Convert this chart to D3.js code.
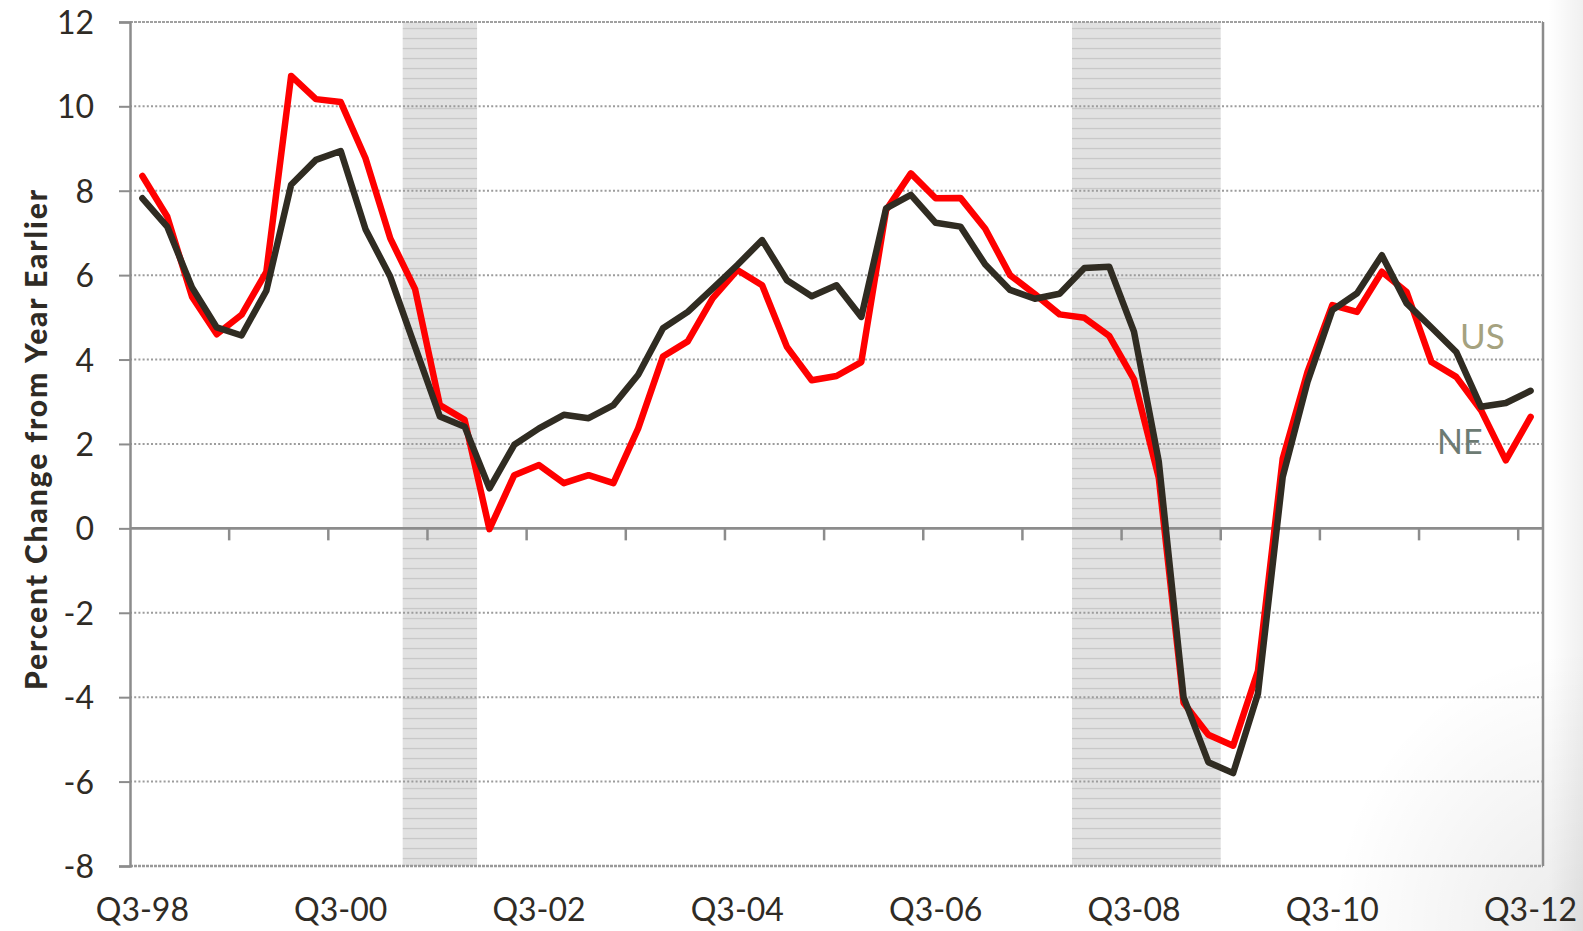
<!DOCTYPE html>
<html>
<head>
<meta charset="utf-8">
<script src="https://cdn.jsdelivr.net/npm/d3@7"></script>
<style>
  html, body { margin: 0; padding: 0; background: #fff; }
  svg { display: block; }
</style>
</head>
<body>
<svg id="chart" width="1583" height="931"></svg>
<script>
// ---------------- DATA ----------------
const categories = [
  "Q3-98","Q4-98","Q1-99","Q2-99","Q3-99","Q4-99","Q1-00","Q2-00","Q3-00","Q4-00",
  "Q1-01","Q2-01","Q3-01","Q4-01","Q1-02","Q2-02","Q3-02","Q4-02","Q1-03","Q2-03",
  "Q3-03","Q4-03","Q1-04","Q2-04","Q3-04","Q4-04","Q1-05","Q2-05","Q3-05","Q4-05",
  "Q1-06","Q2-06","Q3-06","Q4-06","Q1-07","Q2-07","Q3-07","Q4-07","Q1-08","Q2-08",
  "Q3-08","Q4-08","Q1-09","Q2-09","Q3-09","Q4-09","Q1-10","Q2-10","Q3-10","Q4-10",
  "Q1-11","Q2-11","Q3-11","Q4-11","Q1-12","Q2-12","Q3-12"
];
// red series
const neValues = [
  8.35, 7.39, 5.49, 4.60, 5.06, 6.08, 10.72, 10.17, 10.10, 8.77,
  6.87, 5.67, 2.92, 2.57, -0.02, 1.26, 1.50, 1.07, 1.26, 1.07,
  2.37, 4.07, 4.43, 5.45, 6.12, 5.76, 4.30, 3.51, 3.61, 3.94,
  7.54, 8.41, 7.82, 7.83, 7.10, 6.00, 5.55, 5.07, 4.99, 4.56,
  3.53, 1.20, -4.13, -4.89, -5.15, -3.38, 1.65, 3.71, 5.29, 5.13,
  6.08, 5.60, 3.94, 3.59, 2.80, 1.61, 2.64
];
// dark series
const usValues = [
  7.82, 7.15, 5.71, 4.76, 4.57, 5.63, 8.14, 8.73, 8.94, 7.09,
  5.96, 4.30, 2.65, 2.41, 0.95, 1.98, 2.37, 2.69, 2.61, 2.92,
  3.64, 4.74, 5.13, 5.68, 6.24, 6.83, 5.88, 5.50, 5.76, 5.01,
  7.58, 7.90, 7.24, 7.15, 6.25, 5.65, 5.44, 5.56, 6.17, 6.20,
  4.66, 1.59, -4.00, -5.54, -5.80, -3.92, 1.22, 3.47, 5.17, 5.57,
  6.47, 5.33, 4.76, 4.18, 2.88, 2.97, 3.26
];
const xTickLabels = ["Q3-98","Q3-00","Q3-02","Q3-04","Q3-06","Q3-08","Q3-10","Q3-12"];
const xTickMarks = ["Q3-99","Q3-00","Q3-01","Q3-02","Q3-03","Q3-04","Q3-05","Q3-06","Q3-07","Q3-08","Q3-09","Q3-10","Q3-11","Q3-12"];
const yTicks = [-8, -6, -4, -2, 0, 2, 4, 6, 8, 10, 12];
const recessions = [["Q2-01","Q4-01"], ["Q1-08","Q2-09"]];
const seriesLabels = ["US", "NE"];

// ---------------- CHART ----------------
const svg = d3.select("#chart");
const L = 130, R = 1543, T = 21.9, B = 866;
const FONT = "Lato, 'Open Sans', sans-serif";

const x = d3.scaleBand().domain(categories).range([L, R]).padding(0);
const y = d3.scaleLinear().domain([-8, 12]).range([B, T]);
const cx = c => x(c) + x.bandwidth() / 2;

const defs = svg.append("defs");
const pat = defs.append("pattern")
  .attr("id", "recPat").attr("patternUnits", "userSpaceOnUse")
  .attr("x", 0).attr("y", T + 6).attr("width", 8).attr("height", 10);
pat.append("rect").attr("width", 8).attr("height", 10).attr("fill", "#e1e1e1");
pat.append("rect").attr("y", 0).attr("width", 8).attr("height", 1.2).attr("fill", "#c6c6c6");

const rg = defs.append("radialGradient").attr("id", "corner")
  .attr("cx", "100%").attr("cy", "100%").attr("r", "100%");
rg.append("stop").attr("offset", "0%").attr("stop-color", "#000").attr("stop-opacity", 0.08);
rg.append("stop").attr("offset", "100%").attr("stop-color", "#000").attr("stop-opacity", 0);
const lg = defs.append("linearGradient").attr("id", "edge").attr("x1", "0%").attr("x2", "100%");
lg.append("stop").attr("offset", "0%").attr("stop-color", "#000").attr("stop-opacity", 0);
lg.append("stop").attr("offset", "100%").attr("stop-color", "#000").attr("stop-opacity", 0.06);

// background shading at right edge
svg.append("rect").attr("x", 1330).attr("y", 650).attr("width", 253).attr("height", 281).attr("fill", "url(#corner)");
svg.append("rect").attr("x", 1548).attr("y", 0).attr("width", 35).attr("height", 931).attr("fill", "url(#edge)");

// recession shading
svg.append("g").selectAll("rect").data(recessions).join("rect")
  .attr("x", d => x(d[0]))
  .attr("width", d => x(d[1]) + x.bandwidth() - x(d[0]))
  .attr("y", y(12)).attr("height", y(-8) - y(12))
  .attr("fill", "url(#recPat)");

// gridlines (dotted)
svg.append("g").selectAll("line").data(yTicks.filter(v => v !== 0 && v !== -8 && v !== 12)).join("line")
  .attr("x1", L).attr("x2", R).attr("y1", d => y(d)).attr("y2", d => y(d))
  .attr("stroke", "#9c9c9c").attr("stroke-width", 2).attr("stroke-dasharray", "2,2.2");
// top line
svg.append("line").attr("x1", L).attr("x2", R).attr("y1", y(12)).attr("y2", y(12))
  .attr("stroke", "#a0a0a0").attr("stroke-width", 2).attr("stroke-dasharray", "3,1");
// bottom line
svg.append("line").attr("x1", L).attr("x2", R).attr("y1", y(-8)).attr("y2", y(-8))
  .attr("stroke", "#999").attr("stroke-width", 2.5).attr("stroke-dasharray", "3,1");
// right border
svg.append("line").attr("x1", R).attr("x2", R).attr("y1", y(12)).attr("y2", y(-8))
  .attr("stroke", "#8c8c8c").attr("stroke-width", 2.5);

// y axis
const yAxis = d3.axisLeft(y).tickValues(yTicks).tickSize(11).tickPadding(25).tickFormat(d => String(d));
const gy = svg.append("g").attr("transform", `translate(${L},0)`).call(yAxis);
gy.select(".domain").attr("stroke", "#8c8c8c").attr("stroke-width", 2.5);
gy.selectAll(".tick line").attr("stroke", "#8c8c8c").attr("stroke-width", 2);
gy.selectAll(".tick text").attr("font-family", FONT)
  .attr("font-size", 32).attr("fill", "#2f2b25").attr("dy", "0.36em");

// zero line
svg.append("line").attr("x1", L).attr("x2", R).attr("y1", y(0)).attr("y2", y(0))
  .attr("stroke", "#8c8c8c").attr("stroke-width", 2.8);
// x tick marks (band boundaries every 4 quarters)
svg.append("g").selectAll("line").data(xTickMarks).join("line")
  .attr("x1", d => x(d)).attr("x2", d => x(d))
  .attr("y1", y(0)).attr("y2", y(0) + 12)
  .attr("stroke", "#8c8c8c").attr("stroke-width", 2.5);

// x labels
svg.append("g").selectAll("text").data(xTickLabels).join("text")
  .attr("x", d => cx(d)).attr("y", 921)
  .attr("text-anchor", "middle")
  .attr("font-family", FONT).attr("font-size", 32)
  .attr("fill", "#2f2b25").text(d => d);

// y title
svg.append("text")
  .attr("transform", "translate(47,440) rotate(-90)")
  .attr("text-anchor", "middle")
  .attr("font-family", FONT).attr("font-weight", 900)
  .attr("font-size", 30).attr("fill", "#2f2b25")
  .attr("textLength", 500).attr("lengthAdjust", "spacing")
  .text("Percent Change from Year Earlier");

// lines
const line = d3.line().x((d, i) => cx(categories[i])).y(d => y(d));
svg.append("path").datum(neValues).attr("d", line)
  .attr("fill", "none").attr("stroke", "#ff0000").attr("stroke-width", 6.5)
  .attr("stroke-linejoin", "round").attr("stroke-linecap", "round");
svg.append("path").datum(usValues).attr("d", line)
  .attr("fill", "none").attr("stroke", "#302c22").attr("stroke-width", 6.5)
  .attr("stroke-linejoin", "round").attr("stroke-linecap", "round");

// series labels
svg.append("text").attr("x", 1460).attr("y", 349).attr("font-family", FONT)
  .attr("font-size", 35).attr("fill", "#a5a27f").text(seriesLabels[0]);
svg.append("text").attr("x", 1437).attr("y", 454).attr("font-family", FONT)
  .attr("font-size", 34).attr("fill", "#6d7b73").text(seriesLabels[1]);
</script>
</body>
</html>
